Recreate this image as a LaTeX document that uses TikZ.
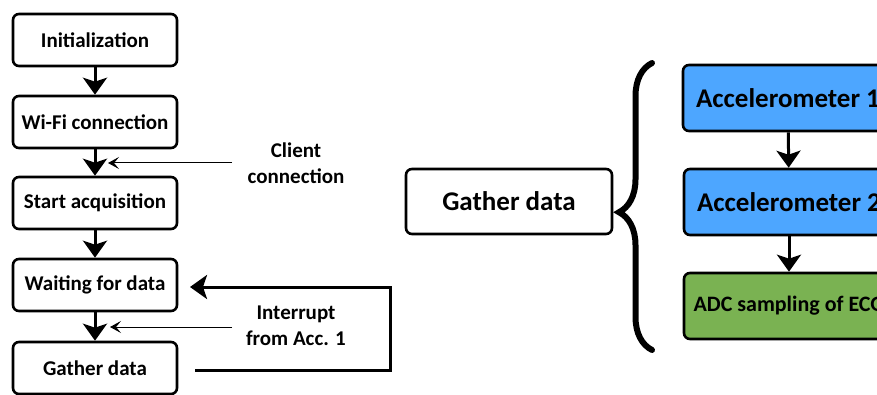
\documentclass[tikz,border=0pt]{standalone}
\usepackage{fontspec}
\setmainfont{Carlito}
\usetikzlibrary{arrows.meta,decorations.pathreplacing}
\definecolor{accblue}{RGB}{77,166,255}
\definecolor{adcgreen}{RGB}{122,178,82}
\tikzset{
  box/.style={draw=black, line width=2.6pt, rounded corners=6pt, fill=white, inner sep=0pt, align=center},
  lbox/.style={box, minimum width=164pt, minimum height=52pt, font=\fontsize{21}{26}\selectfont\bfseries},
  rbox/.style={box, minimum width=210pt, minimum height=66pt},
  thick arrow/.style={line width=3pt, -{Stealth[length=17pt,width=24pt,inset=4pt]}},
  thin arrow/.style={line width=1pt, -{Stealth[length=11pt,width=12pt,inset=5pt]}},
  lbl/.style={align=center, font=\fontsize{21}{26}\selectfont\bfseries}
}
\begin{document}
\begin{tikzpicture}[x=1pt,y=-1pt]
\useasboundingbox (0,0) rectangle (877,395);
\clip (0,0) rectangle (877,395);
% left flow
\node[lbox] (init) at (95,40) {Initialization};
\node[lbox] (wifi) at (95,122) {Wi-Fi connection};
\node[lbox] (start) at (95,203) {Start acquisition};
\node[lbox] (wait) at (95,285) {Waiting for data};
\node[lbox] (gath) at (95,368) {Gather data};
\draw[thick arrow] (init) -- (wifi);
\draw[thick arrow] (wifi) -- (start);
\draw[thick arrow] (start) -- (wait);
\draw[thick arrow] (wait) -- (gath);
% side inputs
\coordinate (ccs) at (232,163);
\coordinate (cce) at (108,163);
\draw[thin arrow] (ccs) -- (cce);
\node[lbl] (client) at (296,163) {Client\\connection};
\coordinate (irs) at (232,327);
\coordinate (ire) at (110,327);
\draw[thin arrow] (irs) -- (ire);
\node[lbl] (intr) at (296,326) {Interrupt\\from Acc. 1};
% feedback loop
\coordinate (fbs) at (195,370);
\coordinate (fbc) at (390,287);
\coordinate (fbe) at (190,287);
\draw[line width=3pt, -{Stealth[length=17pt,width=24pt,inset=4pt]}] (fbs) -| (fbc) -- (fbe);
% right part
\node[box, minimum width=206pt, minimum height=65pt, font=\fontsize{27}{32}\selectfont\bfseries] (rg) at (509,201.5) {Gather data};
\draw[line width=6pt, line cap=round, decorate, decoration={brace, amplitude=33pt, aspect=0.48}] (652,350) -- (652,63);
\node[rbox, fill=accblue, font=\fontsize{27}{32}\selectfont\bfseries] (acc1) at (788,98) {Accelerometer 1};
\node[rbox, fill=accblue, font=\fontsize{27}{32}\selectfont\bfseries] (acc2) at (789,202) {Accelerometer 2};
\node[rbox, fill=adcgreen, font=\fontsize{22}{26}\selectfont\bfseries] (adc) at (789,306) {ADC sampling of ECG};
\draw[thick arrow] (acc1) -- (acc2);
\draw[thick arrow] (acc2) -- (adc);
\end{tikzpicture}
\end{document}
